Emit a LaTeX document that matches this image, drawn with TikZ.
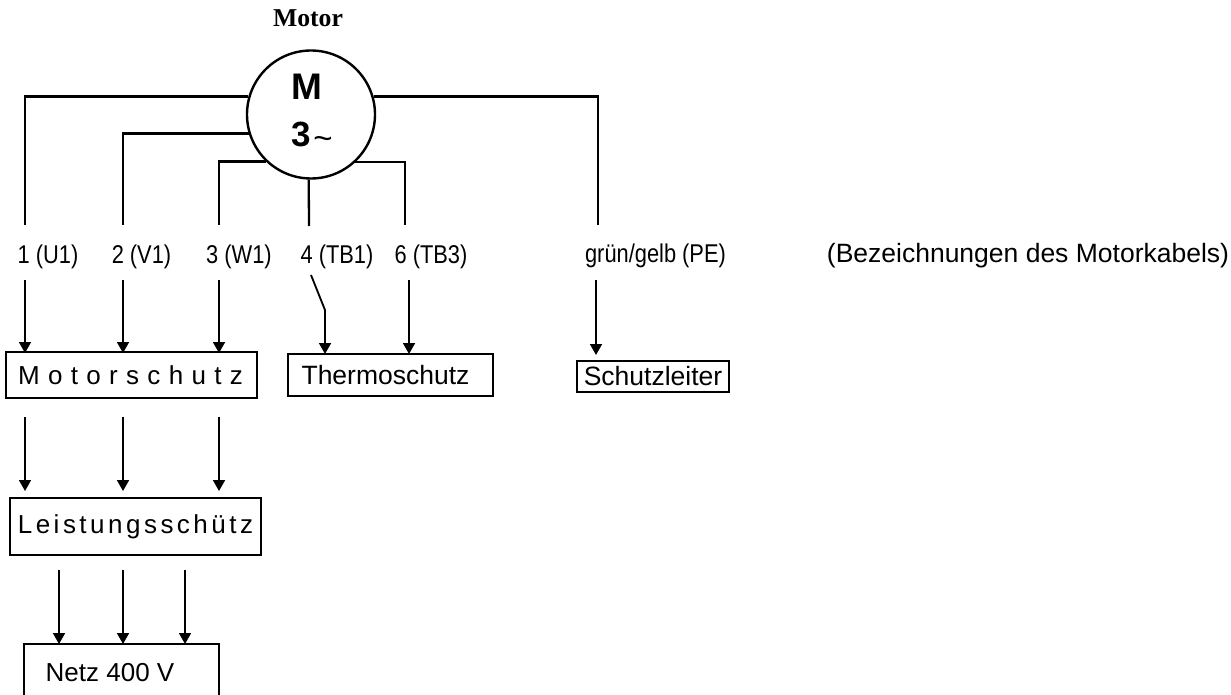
\documentclass[tikz,border=0pt]{standalone}
\usepackage{fontspec}
\usetikzlibrary{arrows.meta}
\setmainfont{Liberation Sans}
\newfontfamily\serifbold[BoldFont={Liberation Serif Bold}]{Liberation Serif}
\newfontfamily\narrowfont[FakeStretch=0.85]{Liberation Sans}
\newfontfamily\wideA[LetterSpace=32]{Liberation Sans}
\newfontfamily\wideB[LetterSpace=13.4]{Liberation Sans}
\newcommand{\fs}[1]{\fontsize{#1}{#1}\selectfont}
\tikzset{
  wire/.style={line width=2.3pt,line cap=butt,line join=miter},
  feed/.style={line width=1.8pt,-{Triangle[length=11pt,width=12pt]}},
  box/.style={draw,line width=2.4pt,inner sep=0pt,font=\fs{26.5}},
  thinbox/.style={draw,line width=1.8pt,inner sep=0pt,font=\fs{26}},
  lab/.style={inner sep=0pt,font=\narrowfont\fs{25.7}},
  note/.style={inner sep=0pt,font=\fs{26.5}}
}
\begin{document}
\begin{tikzpicture}[x=1pt,y=-1pt]
\useasboundingbox (0,0) rectangle (1231,695);
\fill[white] (0,0) rectangle (1231,695);
% motor
\node[circle,draw,line width=2.4pt,minimum size=128pt,inner sep=0pt] (motor) at (311,114.5) {};
\node[inner sep=0pt,font=\serifbold\bfseries\fs{25.7}] (motortitle) at (308,18) {Motor};
\node[inner sep=0pt,font=\bfseries\fs{37}] (mm) at (307,87) {M};
\node[inner sep=0pt,font=\bfseries\fs{35}] (m3) at (301.5,134.5) {3};
\node[inner sep=0pt,font=\fs{33}] (mt) at (323,143) {\char`\~};
% labels
\node[lab] (l1) at (48,257) {1 (U1)};
\node[lab] (l2) at (141.5,257) {2 (V1)};
\node[lab] (l3) at (239,257) {3 (W1)};
\node[lab] (l4) at (337,257) {4 (TB1)};
\node[lab] (l6) at (431,257) {6 (TB3)};
\node[lab] (lpe) at (655.5,256) {grün/gelb (PE)};
\node[note] (lnote) at (1028,256) {(Bezeichnungen des Motorkabels)};
% boxes
\node[box,minimum width=251pt,minimum height=46pt,font={\wideA\fs{26}}] (ms) at (131.5,375) {Motorschutz\hspace*{2pt}};
\node[box,minimum width=205pt,minimum height=42pt] (ths) at (390.5,375) {\hspace*{-10pt}Thermoschutz};
\node[box,minimum width=152pt,minimum height=31pt] (pe) at (653,376.5) {Schutzleiter};
\node[box,minimum width=251pt,minimum height=57pt,font={\wideB\fs{26}}] (ls) at (135.5,526.5) {Leistungsschütz};
\node[thinbox,minimum width=195pt,minimum height=58pt] (netz) at (121.5,673) {\hspace*{-23pt}Netz 400 V};
% connector end points
\coordinate (u1) at (25,225);
\coordinate (v1) at (123,225);
\coordinate (w1) at (219,225);
\coordinate (tb1) at (309,226);
\coordinate (tb3) at (405,225);
\coordinate (pe1) at (598,225);
\coordinate (a1) at (25,280); \coordinate (a1e) at (25,353);
\coordinate (a2) at (123,280); \coordinate (a2e) at (123,353);
\coordinate (a3) at (219,280); \coordinate (a3e) at (219,353);
\coordinate (a4) at (311,275); \coordinate (a4k) at (325,310); \coordinate (a4e) at (325,354);
\coordinate (a6) at (409,280); \coordinate (a6e) at (409,354);
\coordinate (ape) at (596,280); \coordinate (apee) at (596,355);
\coordinate (b1) at (25,417); \coordinate (b1e) at (25,491);
\coordinate (b2) at (123,417); \coordinate (b2e) at (123,491);
\coordinate (b3) at (219,417); \coordinate (b3e) at (219,491);
\coordinate (c1) at (59,570); \coordinate (c1e) at (59,644);
\coordinate (c2) at (123,570); \coordinate (c2e) at (123,644);
\coordinate (c3) at (185,570); \coordinate (c3e) at (185,644);
% motor wires
\draw[wire] (motor.164) -| (u1);
\draw[wire] (motor.197) -| (v1);
\draw[wire] (motor.226.6) -| (w1);
\draw[wire] (motor.268) -- (tb1);
\draw[wire] (motor.313.4) -| (tb3);
\draw[wire] (motor.16) -| (pe1);
% arrows
\draw[feed] (a1) -- (a1e);
\draw[feed] (a2) -- (a2e);
\draw[feed] (a3) -- (a3e);
\draw[feed,line join=miter] (a4) -- (a4k) -- (a4e);
\draw[feed] (a6) -- (a6e);
\draw[feed] (ape) -- (apee);
\draw[feed] (b1) -- (b1e);
\draw[feed] (b2) -- (b2e);
\draw[feed] (b3) -- (b3e);
\draw[feed] (c1) -- (c1e);
\draw[feed] (c2) -- (c2e);
\draw[feed] (c3) -- (c3e);
\end{tikzpicture}
\end{document}
